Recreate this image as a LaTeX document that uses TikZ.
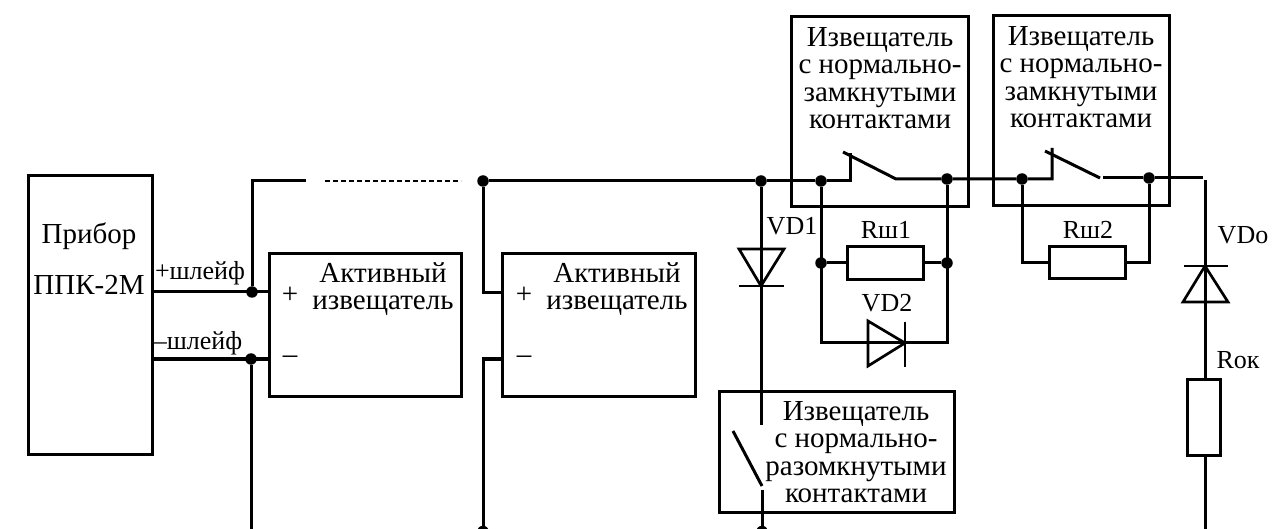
\documentclass[tikz,border=0pt]{standalone}
\usepackage{fontspec}
\setmainfont{Liberation Serif}
\tikzset{
  wire/.style={line width=3pt,line cap=butt,line join=miter},
  thinwire/.style={line width=2.7pt,line cap=butt,line join=miter},
  blockbox/.style={draw,line width=3pt,inner sep=0pt,outer sep=0pt,fill=none},
  dot/.style={circle,fill=black,inner sep=0pt,outer sep=0pt,minimum size=11.5pt},
  lbl/.style={inner sep=0pt,outer sep=0pt,font=\fontsize{29pt}{27.3pt}\selectfont,align=center},
  smalllbl/.style={inner sep=0pt,outer sep=0pt,font=\fontsize{26pt}{27pt}\selectfont,align=center}
}
\begin{document}
\begin{tikzpicture}[x=1pt,y=-1pt]
\clip (0,0) rectangle (1272,529);
% blocks
\node[blockbox,minimum width=124pt,minimum height=278pt] (pribor) at (90,315) {};
\node[blockbox,minimum width=192pt,minimum height=142pt] (act1) at (365,325) {};
\node[blockbox,minimum width=193pt,minimum height=142pt] (act2) at (598.5,325) {};
\node[blockbox,minimum width=177pt,minimum height=190pt] (nc1) at (879.5,112) {};
\node[blockbox,minimum width=176pt,minimum height=190pt] (nc2) at (1081,111) {};
\node[blockbox,minimum width=235pt,minimum height=121pt] (no) at (836.5,451.5) {};
\node[blockbox,minimum width=76pt,minimum height=33pt] (r1) at (885,263.5) {};
\node[blockbox,minimum width=76pt,minimum height=32pt] (r2) at (1087,263) {};
\node[blockbox,minimum width=33pt,minimum height=76pt] (rok) at (1203.5,417) {};
% junctions
\node[dot] (jp) at (252,292) {};
\node[dot] (jm) at (251,359) {};
\node[dot] (jtop) at (483,181) {};
\node[dot] (jvd) at (761,181) {};
\node[dot] (ja) at (821,181) {};
\node[dot] (jb) at (947,179) {};
\node[dot] (jc) at (1022,179) {};
\node[dot] (jd) at (1149,178) {};
\node[dot] (je) at (821,263) {};
\node[dot] (jf) at (947,263) {};
\node[dot] (jbot1) at (483,531.5) {};
\node[dot] (jbot2) at (762,531.5) {};
% free ends
\coordinate (c1) at (252,181);
\coordinate (c2) at (306,181);
\coordinate (d1) at (325,181);
\coordinate (d2) at (461,181);
\coordinate (b1) at (251,529);
\coordinate (s1t) at (850,181);
\coordinate (s1u) at (850,153);
\coordinate (s1a) at (843,152);
\coordinate (s1b) at (896,179);
\coordinate (s2t) at (1052,179);
\coordinate (s2u) at (1052,148);
\coordinate (s2a) at (1045,151);
\coordinate (s2b) at (1100,178);
\coordinate (s2c) at (1103,178);
\coordinate (endw) at (1203,178);
\coordinate (vt) at (1205,180);
\coordinate (vbot) at (1205,529);
\coordinate (a2p) at (483,293);
\coordinate (a2m) at (483,359);
% main wires
\draw[wire] (pribor.east |- jp) -- (act1.west |- jp);
\draw[wire] (pribor.east |- jm) -- (act1.west |- jm);
\draw[wire] (jp) -- (c1) -- (c2);
\draw[line width=2pt,dash pattern=on 5pt off 3pt] (d1) -- (d2);
\draw[wire] (jm) -- (b1);
\draw[wire] (jtop) -- (a2p) -- (act2.west |- a2p);
\draw[wire] (jbot1) -- (a2m) -- (act2.west |- a2m);
\draw[wire] (jtop) -- (jvd) -- (ja) -- (s1t) -- (s1u);
\draw[wire] (s1a) -- (s1b) -- (jb) -- (jc) -- (s2t) -- (s2u);
\draw[wire] (s2a) -- (s2b);
\draw[wire] (s2c) -- (jd) -- (endw);
% first detector shunt
\draw[wire] (ja) -- (821,343) -- (947,343) -- (jb);
\draw[wire] (je) -- (r1.west |- je);
\draw[wire] (jf) -- (r1.east |- jf);
% second detector shunt
\draw[wire] (jc) -- (1022,263) -- (r2.west |- 0,263);
\draw[wire] (jd) -- (1149,263) -- (r2.east |- 0,263);
% VD1 branch
\draw[wire] (jvd) -- (761,425);
\draw[wire] (733,431) -- (762,486);
\draw[wire] (762,490) -- (jbot2);
\draw[thinwire] (739,249) -- (784,249) -- (761,286) -- cycle;
\draw[thinwire] (739,286) -- (784,286);
% VD2
\draw[thinwire] (868,321) -- (868,366) -- (905,343) -- cycle;
\draw[thinwire] (905,322) -- (905,367);
% VDo branch
\draw[wire] (vt) -- (rok.north -| vt);
\draw[wire] (rok.south -| vt) -- (vbot);
\draw[thinwire] (1183,302) -- (1228,302) -- (1205,266) -- cycle;
\draw[thinwire] (1184,266) -- (1228,266);
% labels
\node[lbl] (tpr) at (89,236) {Прибор};
\node[lbl] (tppk) at (89,285) {ППК-2М};
\node[smalllbl] (tplus) at (200,273) {+шлейф};
\node[smalllbl] (tminus) at (198,343) {–шлейф};
\node[lbl] (tp1) at (290,295) {+};
\node[lbl] (tm1) at (290,360) {–};
\node[lbl] (ta1) at (383,289) {Активный\\извещатель};
\node[lbl] (tp2) at (524,295) {+};
\node[lbl] (tm2) at (524,360) {–};
\node[lbl] (ta2) at (617,289) {Активный\\извещатель};
\node[lbl] (tnc1) at (880,78) {Извещатель\\с нормально-\\замкнутыми\\контактами};
\node[lbl] (tnc2) at (1081,77) {Извещатель\\с нормально-\\замкнутыми\\контактами};
\node[lbl] (tno) at (856,452) {Извещатель\\с нормально-\\разомкнутыми\\контактами};
\node[smalllbl] (tvd1) at (792,226) {VD1};
\node[smalllbl] (tvd2) at (887,303) {VD2};
\node[smalllbl] (tvdo) at (1243,235) {VDo};
\node[smalllbl] (tr1) at (886,230) {Rш1};
\node[smalllbl] (tr2) at (1088,230) {Rш2};
\node[smalllbl] (trok) at (1238,360) {Rок};
\end{tikzpicture}
\end{document}
